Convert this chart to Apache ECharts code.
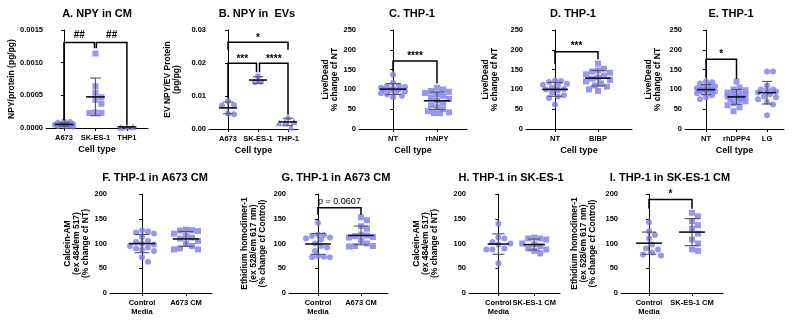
<!DOCTYPE html>
<html>
<head>
<meta charset="utf-8">
<script src="https://cdn.jsdelivr.net/npm/echarts@6/dist/echarts.min.js"></script>
<style>
html, body { margin: 0; padding: 0; background: #fff; }
#chart { width: 794px; height: 323px; }
</style>
</head>
<body>
<div id="chart"></div>
<script>
// ---- data ----
// A. NPY in conditioned media (pg/pg)
const catsA = ['A673', 'SK-ES-1', 'THP1'];
const npyCM_A673 = [0.00010, 0.00009, 0.00008, 0.00007, 0.00006, 0.00005, 0.00005, 0.00004, 0.00004, 0.00003, 0.00003, 0.00002];
const npyCM_SKES1 = [0.00114, 0.00064, 0.00054, 0.00047, 0.00043, 0.00037, 0.00024, 0.00023, 0.00023];
const npyCM_THP1 = [0.00002, 0.00001, 0.00002];

// B. NPY in EVs
const catsB = ['A673', 'SK-ES-1', 'THP-1'];
const evNPY_A673 = [0.0085, 0.0073, 0.0071, 0.0046, 0.0045];
const evNPY_SKES1 = [0.0160, 0.0143, 0.0142];
const evNPY_THP1 = [0.0038, 0.0023, 0.0021, 0.0019, 0.0006];

// C-E. THP-1 live/dead, % change of NT
const catsC = ['NT', 'rhNPY'];
const ldC_NT = [137, 117, 110, 108, 106, 104, 102, 100, 100, 98, 95, 93, 90, 88, 84, 80];
const ldC_rhNPY = [104, 100, 96, 94, 91, 88, 84, 80, 76, 72, 66, 60, 55, 50, 45, 42, 40, 40];

const catsD = ['NT', 'BIBP'];
const ldD_NT = [122, 121, 119, 114, 112, 110, 105, 101, 100, 98, 92, 85, 82, 78, 62];
const ldD_BIBP = [165, 152, 148, 145, 142, 138, 135, 130, 127, 124, 120, 115, 110, 107, 100, 96];

const catsE = ['NT', 'rhDPP4', 'LG'];
const ldE_NT = [120, 118, 115, 110, 108, 105, 103, 100, 100, 98, 96, 95, 92, 90, 85, 80, 75];
const ldE_rhDPP4 = [120, 105, 100, 98, 92, 90, 88, 85, 82, 80, 78, 75, 72, 70, 65, 60, 55, 45];
const ldE_LG = [145, 145, 110, 100, 100, 98, 95, 92, 88, 82, 80, 75, 68, 62, 35];

// F-I. THP-1 in conditioned media
const catsFG = ['Control\nMedia', 'A673 CM'];
const catsHI = ['Control\nMedia', 'SK-ES-1 CM'];
const calF_ctrl = [127, 124, 122, 120, 113, 105, 103, 100, 98, 95, 92, 90, 88, 85, 72, 63];
const calF_cm = [128, 127, 126, 125, 120, 115, 112, 110, 105, 100, 95, 90, 88, 88];
const ethG_ctrl = [142, 118, 117, 115, 112, 110, 108, 100, 95, 92, 85, 74, 73, 72, 72];
const ethG_cm = [153, 147, 135, 130, 118, 116, 115, 113, 112, 105, 100, 95, 95, 94];
const calH_ctrl = [140, 112, 110, 103, 100, 98, 90, 88, 88, 60];
const calH_cm = [112, 110, 110, 108, 100, 98, 95, 90, 88, 85, 80];
const ethI_ctrl = [143, 125, 117, 110, 98, 90, 88, 82, 78, 76];
const ethI_cm = [162, 155, 145, 137, 130, 120, 108, 100, 88, 85];

// ---- layout ----
const FONT = 'Liberation Sans, Arial, sans-serif';
const DOT = '#7d7df0';

const panels = [
  { title: 'A. NPY in CM', tx: 97, ty: 14, cats: catsA, groups: [npyCM_A673, npyCM_SKES1, npyCM_THP1],
    shapes: ['circle', 'rect', 'triangle'], left: 46, top: 30, width: 102, height: 98, xmin: -0.57, xmax: 2.67,
    ymax: 0.0015, yint: 0.0005, dec: 4, yname: 'NPY/protein (pg/pg)', ygap: 27, xname: 'Cell type',
    brackets: [
      { x0: 0, x1: 0.97, top: 0.00131, l0: 0.00012, l1: 0.00122, text: '##', ty: 0.00142 },
      { x0: 1.03, x1: 2, top: 0.00131, l0: 0.00122, l1: 0.00005, text: '##', ty: 0.00142 }
    ] },
  { title: 'B. NPY in  EVs', tx: 257, ty: 14, cats: catsB, groups: [evNPY_A673, evNPY_SKES1, evNPY_THP1],
    shapes: ['circle', 'circle', 'triangle'], left: 209, top: 30, width: 89, height: 99, xmin: -0.633, xmax: 2.333,
    ymax: 0.03, yint: 0.01, dec: 2, yname: 'EV NPY/EV Protein\n(pg/pg)', ygap: 28, xname: 'Cell type',
    brackets: [
      { x0: 0, x1: 2, top: 0.0263, l0: 0.0240, l1: 0.0240, text: '*', ty: 0.0276 },
      { x0: 0, x1: 0.95, top: 0.0199, l0: 0.0094, l1: 0.0172, text: '***', ty: 0.0210 },
      { x0: 1.05, x1: 2, top: 0.0199, l0: 0.0172, l1: 0.0045, text: '****', ty: 0.0210 }
    ] },
  { title: 'C. THP-1', tx: 412, ty: 14, cats: catsC, groups: [ldC_NT, ldC_rhNPY],
    shapes: ['circle', 'rect'], left: 359, top: 30, width: 108, height: 99, xmin: -0.773, xmax: 1.682,
    ymax: 250, yint: 50, dec: 0, yname: 'Live/Dead\n% change cf NT', ygap: 20, xname: 'Cell type',
    brackets: [{ x0: 0, x1: 1, top: 172, l0: 145, l1: 115, text: '****', ty: 184 }] },
  { title: 'D. THP-1', tx: 573, ty: 14, cats: catsD, groups: [ldD_NT, ldD_BIBP],
    shapes: ['circle', 'rect'], left: 526, top: 30, width: 106, height: 99, xmin: -0.674, xmax: 1.791,
    ymax: 250, yint: 50, dec: 0, yname: 'Live/Dead\n% change cf NT', ygap: 27, xname: 'Cell type',
    brackets: [{ x0: 0, x1: 1, top: 195, l0: 165, l1: 176, text: '***', ty: 208 }] },
  { title: 'E. THP-1', tx: 731, ty: 14, cats: catsE, groups: [ldE_NT, ldE_rhDPP4, ldE_LG],
    shapes: ['circle', 'rect', 'circle'], left: 685, top: 30, width: 99, height: 99, xmin: -0.689, xmax: 2.557,
    ymax: 250, yint: 50, dec: 0, yname: 'Live/Dead\n% change cf NT', ygap: 23, xname: 'Cell type',
    brackets: [{ x0: 0, x1: 1, top: 176, l0: 130, l1: 126, text: '*', ty: 188 }] },
  { title: 'F. THP-1 in A673 CM', tx: 155, ty: 178, cats: catsFG, groups: [calF_ctrl, calF_cm],
    shapes: ['circle', 'rect'], left: 110, top: 194, width: 102, height: 99, xmin: -0.727, xmax: 1.591,
    ymax: 200, yint: 50, dec: 0, yname: 'Calcein-AM\n(ex 484/em 517)\n(% change cf NT)', ygap: 13, brackets: [] },
  { title: 'G. THP-1 in A673 CM', tx: 336, ty: 178, cats: catsFG, groups: [ethG_ctrl, ethG_cm],
    shapes: ['circle', 'rect'], left: 289, top: 194, width: 99, height: 99, xmin: -0.674, xmax: 1.628,
    ymax: 200, yint: 50, dec: 0, yname: 'Ethidium homodimer-1\n(ex 528/em 617 nm)\n(% change cf Control)', ygap: 22,
    brackets: [{ x0: 0, x1: 1, top: 172, l0: 158, l1: 158, text: 'p = 0.0607', ty: 185, plain: true }] },
  { title: 'H. THP-1 in SK-ES-1', tx: 511, ty: 178, cats: catsHI, groups: [calH_ctrl, calH_cm],
    shapes: ['circle', 'rect'], left: 469, top: 194, width: 91, height: 99, xmin: -0.82, xmax: 1.72,
    ymax: 200, yint: 50, dec: 0, yname: 'Calcein-AM\n(ex 484/em 517)\n(% change cf NT)', ygap: 30, brackets: [] },
  { title: 'I. THP-1 in SK-ES-1 CM', tx: 670, ty: 178, cats: catsHI, groups: [ethI_ctrl, ethI_cm],
    shapes: ['circle', 'rect'], left: 621, top: 194, width: 102, height: 99, xmin: -0.651, xmax: 1.721,
    ymax: 200, yint: 50, dec: 0, yname: 'Ethidium homodimer-1\n(ex 528/em 617 nm)\n(% change cf Control)', ygap: 24,
    brackets: [{ x0: 0, x1: 1, top: 189, l0: 170, l1: 170, text: '*', ty: 199 }] }
];

// deterministic beeswarm: spread overlapping points sideways, at most maxPx from the centre
function swarm(vals, pxX, pxY, d, maxPx) {
  const order = vals.map((v, i) => i).sort((a, b) => vals[b] - vals[a]);
  const placed = [];
  const off = new Array(vals.length);
  const step = d / 2;
  const cands = [0];
  for (let k = 1; k * step <= maxPx; k++) cands.push(k * step, -k * step);
  for (const i of order) {
    const y = vals[i] * pxY;
    let best = 0, bestGap = -1;
    for (const c of cands) {
      const gap = placed.length ? Math.min(...placed.map(p => Math.hypot(p.x - c, p.y - y))) : Infinity;
      if (gap >= d) { best = c; bestGap = Infinity; break; }
      if (gap > bestGap) { bestGap = gap; best = c; }
    }
    placed.push({ x: best, y: y });
    off[i] = best / pxX;
  }
  return off;
}

function meanSd(a) {
  const m = a.reduce((s, v) => s + v, 0) / a.length;
  const sd = Math.sqrt(a.reduce((s, v) => s + (v - m) * (v - m), 0) / (a.length - 1));
  return [m, sd];
}

const grids = [], xAxes = [], yAxes = [], series = [], graphics = [];
const axisLine = { show: true, lineStyle: { color: '#000', width: 1 } };

panels.forEach((p, gi) => {
  grids.push({ left: p.left, top: p.top, width: p.width, height: p.height, containLabel: false, outerBoundsMode: 'none' });
  const ticks = p.cats.map((c, i) => i);
  xAxes.push({
    type: 'value', gridIndex: gi, min: p.xmin, max: p.xmax,
    axisLine: axisLine, splitLine: { show: false },
    axisTick: { show: true, customValues: ticks, length: 3, lineStyle: { color: '#000' } },
    axisLabel: {
      customValues: ticks, formatter: v => p.cats[Math.round(v)] || '',
      showMinLabel: true, showMaxLabel: true, hideOverlap: false,
      fontSize: 7.5, fontWeight: 'bold', color: '#000', margin: 5, lineHeight: 9, fontFamily: FONT
    },
    name: p.xname || '', nameLocation: 'middle', nameGap: 17,
    nameTextStyle: { fontSize: 9, fontWeight: 'bold', color: '#000', fontFamily: FONT }
  });
  yAxes.push({
    type: 'value', gridIndex: gi, min: 0, max: p.ymax, interval: p.yint,
    axisLine: axisLine, splitLine: { show: false },
    axisTick: { show: true, length: 3, lineStyle: { color: '#000' } },
    axisLabel: { formatter: v => v.toFixed(p.dec), fontSize: 7.5, fontWeight: 'bold', color: '#000', margin: 3, fontFamily: FONT },
    name: p.yname, nameLocation: 'middle', nameRotate: 90, nameGap: p.ygap,
    nameTextStyle: { fontSize: 8.5, fontWeight: 'bold', color: '#000', lineHeight: 9, fontFamily: FONT }
  });

  const pxX = p.width / (p.xmax - p.xmin);
  const pxY = p.height / p.ymax;
  const stats = [];
  p.groups.forEach((g, ci) => {
    const off = swarm(g, pxX, pxY, 6, 0.34 * pxX);
    series.push({
      type: 'scatter', xAxisIndex: gi, yAxisIndex: gi,
      symbol: p.shapes[ci], symbolSize: p.shapes[ci] === 'triangle' ? 7 : 6,
      itemStyle: { color: DOT }, z: 2, silent: true,
      data: g.map((v, j) => [ci + off[j], v])
    });
    const ms = meanSd(g);
    stats.push([ci, ms[0], ms[1]]);
  });

  // mean line with SD whiskers
  series.push({
    type: 'custom', xAxisIndex: gi, yAxisIndex: gi, z: 3, silent: true, clip: false,
    data: stats,
    renderItem: (params, api) => {
      const c = api.value(0), m = api.value(1), s = api.value(2);
      const lo = Math.max(0, m - s);
      const ml = api.coord([c - 0.3, m]), mr = api.coord([c + 0.3, m]);
      const top = api.coord([c, m + s]), bot = api.coord([c, lo]);
      const capL = api.coord([c - 0.17, 0])[0], capR = api.coord([c + 0.17, 0])[0];
      const sd = { stroke: '#555', lineWidth: 1.1 };
      return { type: 'group', children: [
        { type: 'line', shape: { x1: top[0], y1: top[1], x2: bot[0], y2: bot[1] }, style: sd },
        { type: 'line', shape: { x1: capL, y1: top[1], x2: capR, y2: top[1] }, style: sd },
        { type: 'line', shape: { x1: capL, y1: bot[1], x2: capR, y2: bot[1] }, style: sd },
        { type: 'line', shape: { x1: ml[0], y1: ml[1], x2: mr[0], y2: mr[1] }, style: { stroke: '#111', lineWidth: 1.6 } }
      ] };
    }
  });

  // significance brackets
  if (p.brackets.length) {
    series.push({
      type: 'custom', xAxisIndex: gi, yAxisIndex: gi, z: 4, silent: true, clip: false,
      data: p.brackets.map((b, i) => [i, 0]),
      renderItem: (params, api) => {
        const b = p.brackets[params.dataIndex];
        const pts = [[b.x0, b.l0], [b.x0, b.top], [b.x1, b.top], [b.x1, b.l1]].map(q => api.coord(q));
        const t = api.coord([(b.x0 + b.x1) / 2, b.ty]);
        return { type: 'group', children: [
          { type: 'polyline', shape: { points: pts }, style: { stroke: '#000', lineWidth: 1.5, fill: null } },
          { type: 'text', x: t[0], y: t[1], style: {
            text: b.text, fill: '#000', align: 'center', verticalAlign: 'middle',
            font: (b.plain ? 'normal 9px ' : 'bold 10px ') + FONT } }
        ] };
      }
    });
  }

  graphics.push({
    type: 'text', x: p.tx, y: p.ty,
    style: { text: p.title, fill: '#000', align: 'center', verticalAlign: 'middle', font: 'bold 11px ' + FONT }
  });
});

const chart = echarts.init(document.getElementById('chart'), null, { renderer: 'canvas' });
chart.setOption({
  animation: false,
  backgroundColor: '#fff',
  textStyle: { fontFamily: FONT },
  grid: grids,
  xAxis: xAxes,
  yAxis: yAxes,
  series: series,
  graphic: graphics
});
</script>
</body>
</html>
